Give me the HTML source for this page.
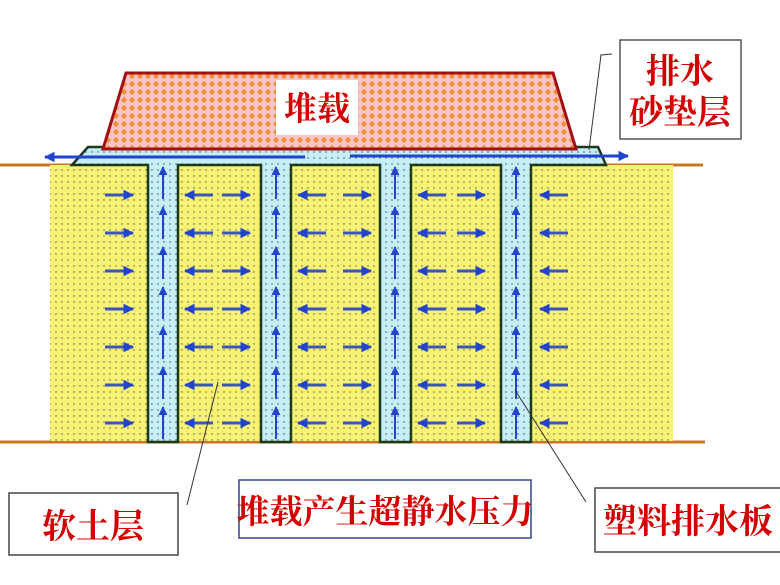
<!DOCTYPE html>
<html><head><meta charset="utf-8"><style>
html,body{margin:0;padding:0;background:#fff;}
svg{display:block}
text{font-family:"Liberation Serif","Noto Serif CJK SC","Noto Sans CJK SC",serif;fill:#d40000;font-weight:bold;}
</style></head><body>
<svg width="780" height="585" viewBox="0 0 780 585" xmlns="http://www.w3.org/2000/svg">
<defs>
<pattern id="dy" width="6" height="6" patternUnits="userSpaceOnUse">
<rect width="6" height="6" fill="#f8f274"/><circle cx="2" cy="2" r="0.7" fill="#555"/></pattern>
<pattern id="dc" width="6" height="6" patternUnits="userSpaceOnUse">
<rect width="6" height="6" fill="#c6eef5"/><circle cx="2" cy="2" r="0.7" fill="#446"/></pattern>
<pattern id="dm" width="8" height="8" patternUnits="userSpaceOnUse">
<rect width="8" height="8" fill="#f9c4c8"/><path d="M4 0.8 L7 4 L4 7.2 L1 4Z" fill="#f09030"/></pattern>
<marker id="ah" viewBox="0 0 10 10" refX="9" refY="5" markerWidth="3.6" markerHeight="3.6" orient="auto"><path d="M0 0 L10 5 L0 10Z" fill="#2244cc"/></marker>
<marker id="av" viewBox="0 0 10 10" refX="9" refY="5" markerWidth="4.5" markerHeight="4.5" orient="auto"><path d="M0 0 L10 5 L0 10Z" fill="#2244cc"/></marker>
</defs>
<line x1="0" y1="165" x2="75" y2="165" stroke="#c87820" stroke-width="3"/>
<line x1="605" y1="165" x2="703" y2="165" stroke="#c87820" stroke-width="3"/>
<line x1="0" y1="442" x2="705" y2="442" stroke="#c87820" stroke-width="3"/>
<rect x="50" y="165" width="623" height="276" fill="url(#dy)"/>
<path d="M72 165 L88 147 L598 147 L606 165 L531 165 L531 442 L501 442 L501 165 L411 165 L411 442 L380 442 L380 165 L291 165 L291 442 L261 442 L261 165 L178 165 L178 442 L148 442 L148 165 Z" fill="url(#dc)" stroke="#1a3a1a" stroke-width="2.5" stroke-linejoin="miter"/>
<path d="M126 73 L553 73 L576 149 L103 149 Z" fill="url(#dm)" stroke="#a01010" stroke-width="3"/>
<rect x="276" y="80" width="82" height="55" fill="#fff"/>
<text x="317" y="120" font-size="33" text-anchor="middle">堆载</text>
<g stroke="#2244cc" stroke-width="3" fill="none">
<line x1="305" y1="157" x2="45" y2="157" marker-end="url(#ah)"/>
<line x1="350" y1="156" x2="628" y2="156" marker-end="url(#ah)"/>
</g>
<g stroke="#2244cc" stroke-width="2" fill="none" id="va">
<line x1="163" y1="199" x2="163" y2="167" marker-end="url(#av)"/><line x1="163" y1="239" x2="163" y2="207" marker-end="url(#av)"/><line x1="163" y1="279" x2="163" y2="247" marker-end="url(#av)"/><line x1="163" y1="319" x2="163" y2="287" marker-end="url(#av)"/><line x1="163" y1="359" x2="163" y2="327" marker-end="url(#av)"/><line x1="163" y1="399" x2="163" y2="367" marker-end="url(#av)"/><line x1="163" y1="439" x2="163" y2="407" marker-end="url(#av)"/>
</g>
<use href="#va" x="113"/><use href="#va" x="232"/><use href="#va" x="353"/>
<g id="ha" stroke="#3a56b8" stroke-width="3" fill="none">
<line x1="105" y1="195" x2="133" y2="195" marker-end="url(#ah)"/>
<line x1="213" y1="195" x2="185" y2="195" marker-end="url(#ah)"/>
<line x1="222" y1="195" x2="250" y2="195" marker-end="url(#ah)"/>
<line x1="326" y1="195" x2="298" y2="195" marker-end="url(#ah)"/>
<line x1="343" y1="195" x2="371" y2="195" marker-end="url(#ah)"/>
<line x1="446" y1="195" x2="418" y2="195" marker-end="url(#ah)"/>
<line x1="457" y1="195" x2="485" y2="195" marker-end="url(#ah)"/>
<line x1="568" y1="195" x2="540" y2="195" marker-end="url(#ah)"/>
</g>
<use href="#ha" y="38"/><use href="#ha" y="76"/><use href="#ha" y="114"/><use href="#ha" y="152"/><use href="#ha" y="190"/><use href="#ha" y="228"/>
<g stroke="#333" stroke-width="1" fill="none">
<polyline points="612,54 601,55 589,150"/>
<line x1="187" y1="505" x2="218" y2="382"/>
<line x1="586" y1="502" x2="515" y2="390"/>
</g>
<rect x="620" y="40" width="121" height="99" fill="#fff" stroke="#555" stroke-width="1.5"/>
<text x="680" y="83" font-size="34" text-anchor="middle">排水</text>
<text x="680" y="124" font-size="34" text-anchor="middle">砂垫层</text>
<rect x="9" y="493" width="169" height="62" fill="#fff" stroke="#444" stroke-width="1.5"/>
<text x="93" y="538" font-size="34" text-anchor="middle">软土层</text>
<rect x="239" y="480" width="292" height="58" fill="#fff" stroke="#334488" stroke-width="1.5"/>
<text x="385" y="523" font-size="33" text-anchor="middle">堆载产生超静水压力</text>
<rect x="595" y="488" width="186" height="64" fill="#fff" stroke="#444" stroke-width="1.5"/>
<text x="688" y="533" font-size="34" text-anchor="middle">塑料排水板</text>
</svg>
</body></html>
